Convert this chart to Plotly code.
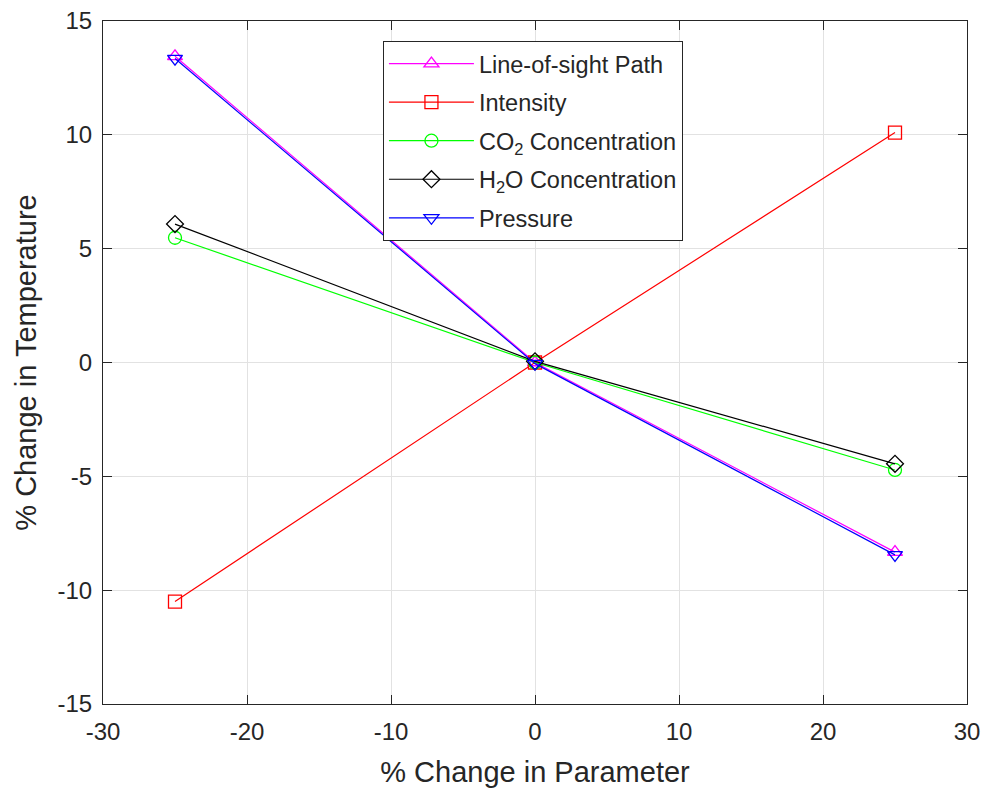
import plotly.graph_objects as go

x_vals = [-25, 0, 25]
los_path = [13.45, 0.0, -8.33]
intensity = [-10.5, 0.0, 10.1]
co2 = [5.48, 0.0, -4.72]
h2o = [6.08, 0.05, -4.45]
pressure = [13.35, -0.05, -8.45]

x_tickvals = [-30, -20, -10, 0, 10, 20, 30]
x_ticktext = ["-30", "-20", "-10", "0", "10", "20", "30"]
y_tickvals = [-15, -10, -5, 0, 5, 10, 15]
y_ticktext = ["-15", "-10", "-5", "0", "5", "10", "15"]

series = [
    ("Line-of-sight Path", los_path, "#ff00ff", "triangle-up-open"),
    ("Intensity", intensity, "#ff0000", "square-open"),
    ("CO<sub>2</sub> Concentration", co2, "#00ff00", "circle-open"),
    ("H<sub>2</sub>O Concentration", h2o, "#000000", "diamond-open"),
    ("Pressure", pressure, "#0000ff", "triangle-down-open"),
]

fig = go.Figure()
for i, (name, ys, color, sym) in enumerate(series):
    fig.add_trace(go.Scatter(
        x=x_vals, y=ys, name=name, mode="lines+markers", legendgroup=f"g{i}",
        line=dict(color=color, width=1.2),
        marker=dict(symbol=sym, size=13, color=color, line=dict(color=color, width=1.3)),
    ))

FONT = "Liberation Sans, Arial, Helvetica"
TXT = "#262626"

axis_common = dict(
    showline=True, mirror="ticks", linecolor=TXT, linewidth=1,
    ticks="inside", ticklen=9, tickcolor=TXT,
    showgrid=True, gridcolor="#e2e2e2", gridwidth=1, zeroline=False,
    tickfont=dict(family=FONT, size=24, color=TXT), automargin=False,
    tickmode="array",
)

fig.update_layout(
    width=989, height=788,
    margin=dict(l=103, r=22, t=21, b=84),
    paper_bgcolor="white", plot_bgcolor="white",
    font=dict(family=FONT, color=TXT),
    xaxis=dict(range=[-30, 30], tickvals=x_tickvals, ticktext=x_ticktext, ticklabelstandoff=6,
               title=dict(text="% Change in Parameter", font=dict(size=29, color=TXT), standoff=17),
               **axis_common),
    yaxis=dict(range=[-15, 15], tickvals=y_tickvals, ticktext=y_ticktext, ticklabelstandoff=5,
               title=dict(text="% Change in Temperature", font=dict(size=29, color=TXT), standoff=12),
               **axis_common),
    legend=dict(x=0.324, y=0.971, xanchor="left", yanchor="top",
                bgcolor="white", bordercolor=TXT, borderwidth=1,
                font=dict(family=FONT, size=23.5, color=TXT), tracegroupgap=5, itemwidth=85),
    showlegend=True,
)

fig.write_html("out.html")
